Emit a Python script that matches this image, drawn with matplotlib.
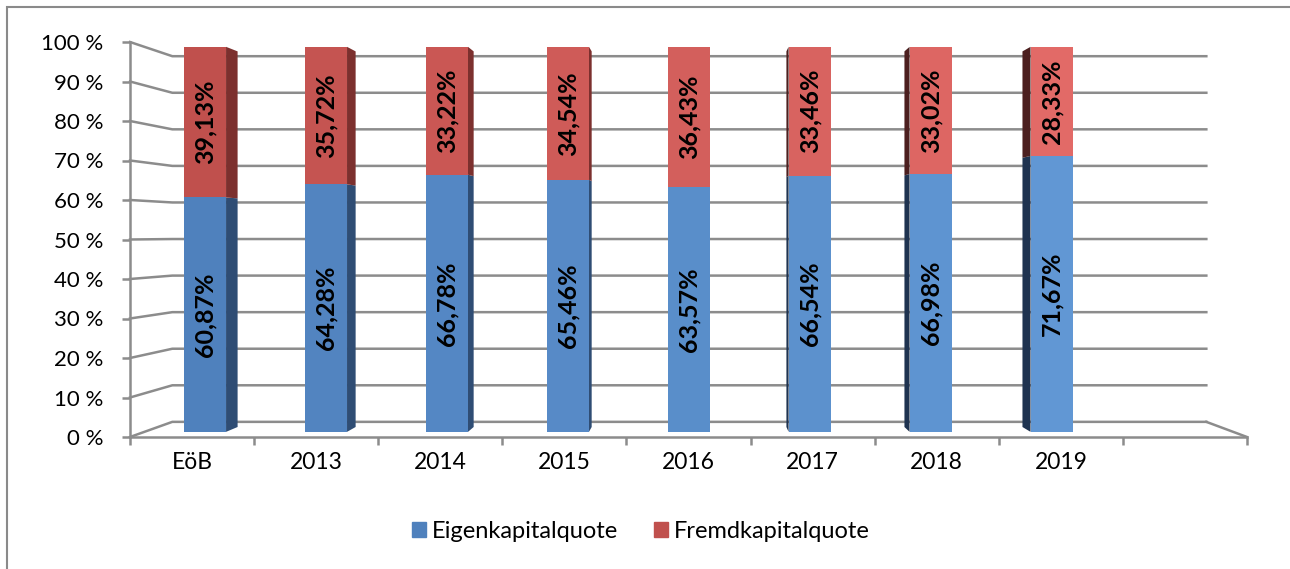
import matplotlib
matplotlib.use("Agg")
import matplotlib.pyplot as plt
from matplotlib.patches import Polygon, Rectangle, Patch
from matplotlib.colors import to_rgb
import numpy as np

# ---------------- data ----------------
categories = ["EöB", "2013", "2014", "2015", "2016", "2017", "2018", "2019"]
eigen = [60.87, 64.28, 66.78, 65.46, 63.57, 66.54, 66.98, 71.67]
fremd = [39.13, 35.72, 33.22, 34.54, 36.43, 33.46, 33.02, 28.33]
series_names = ["Eigenkapitalquote", "Fremdkapitalquote"]
y_ticks = [0, 10, 20, 30, 40, 50, 60, 70, 80, 90, 100]
n_slots = 9  # one empty slot after 2019

# ---------------- style ----------------
FONT = "Lato"
GRID = "#8c8c8c"
blue_a, blue_b = "#4F81BD", "#6197D4"
red_a, red_b = "#C0504D", "#E26A67"
blue_side_r, red_side_r = "#2F4D74", "#7C302E"
blue_side_l, red_side_l = "#1F3350", "#4C1F1F"

W, H = 1290, 569
fig = plt.figure(figsize=(W / 100, H / 100), dpi=100)
fig.patch.set_facecolor("white")
ax = fig.add_axes([130 / W, (H - 437) / H, 1117 / W, 395 / H])
ax.set_xlim(-0.5, n_slots - 0.5)
ax.set_ylim(0, 100)
ax.set_facecolor("none")

# perspective (vanishing point in data coords, depth shrink factor)
XV, YV, K = 4.09, 51.6, 0.0743


def proj(x, y, d):
    s = 1 - K * d
    return XV + (x - XV) * s, YV + (y - YV) * s


# back wall + left wall gridlines
for v in y_ticks:
    pts = [proj(-0.5, v, 0), proj(-0.5, v, 1), proj(n_slots - 0.5, v, 1)]
    xs, ys = zip(*pts)
    ax.plot(xs, ys, color=GRID, lw=1.8, zorder=1, clip_on=False)
# floor right edge
xs, ys = zip(proj(n_slots - 0.5, 0, 1), proj(n_slots - 0.5, 0, 0))
ax.plot(xs, ys, color=GRID, lw=1.8, zorder=1, clip_on=False)

# bars
d1, d2, bw = 0.34, 0.66, 0.35
n = len(categories)
t = np.linspace(0, 1, n)


def mix(c1, c2, f):
    a, b = np.array(to_rgb(c1)), np.array(to_rgb(c2))
    return tuple(a + (b - a) * f)


for series_idx, (vals, bottoms) in enumerate([(eigen, [0] * n), (fremd, eigen)]):
    xc, hs, ws, bs, cols = [], [], [], [], []
    for i in range(n):
        b = bottoms[i]
        top = b + vals[i]
        x0, y0 = proj(i - bw / 2, b, d1)
        x1, y1 = proj(i + bw / 2, top, d1)
        xc.append((x0 + x1) / 2)
        ws.append(x1 - x0)
        hs.append(y1 - y0)
        bs.append(y0)
        if series_idx == 0:
            cols.append(mix(blue_a, blue_b, t[i]))
        else:
            cols.append(mix(red_a, red_b, t[i]))
        # side face
        if i + bw / 2 < XV:
            xe = i + bw / 2
            sc = blue_side_r if series_idx == 0 else red_side_r
        elif i - bw / 2 > XV:
            xe = i - bw / 2
            sc = blue_side_l if series_idx == 0 else red_side_l
        else:
            xe = None
        if xe is not None:
            poly = Polygon([proj(xe, b, d1), proj(xe, b, d2),
                            proj(xe, top, d2), proj(xe, top, d1)],
                           closed=True, facecolor=sc, edgecolor="none",
                           zorder=2, clip_on=False)
            ax.add_patch(poly)
        # label
        lx, ly = proj(i, b + vals[i] / 2, d1)
        ax.text(lx, ly, f"{vals[i]:.2f}".replace(".", ",") + "%",
                rotation=90, ha="center", va="center", fontsize=18,
                fontweight="bold", family=FONT, color="black", zorder=4)
    ax.bar(xc, hs, width=ws, bottom=bs, color=cols, zorder=3,
           linewidth=0, label=series_names[series_idx])

# axes / ticks
for s in ["top", "right"]:
    ax.spines[s].set_visible(False)
for s in ["left", "bottom"]:
    ax.spines[s].set_color(GRID)
    ax.spines[s].set_linewidth(1.8)
    ax.spines[s].set_zorder(1)
ax.set_yticks(y_ticks)
ax.set_yticklabels([f"{v} %" for v in y_ticks], family=FONT, fontsize=16)
ax.tick_params(axis="y", length=6, width=1.8, color=GRID, pad=13)
ax.set_xticks(np.arange(-0.5, n_slots, 1.0))
ax.set_xticklabels([])
ax.set_xticks(np.arange(n), minor=True)
ax.set_xticklabels(categories, minor=True, family=FONT, fontsize=16.5)
ax.tick_params(axis="x", which="major", length=6, width=1.8, color=GRID)
ax.tick_params(axis="x", which="minor", length=0, pad=11)

# legend
handles = [Patch(color=blue_a), Patch(color=red_a)]
fig.legend(handles, series_names, loc="center", bbox_to_anchor=(641 / W, (H - 531) / H),
           ncol=2, frameon=False, prop={"family": FONT, "size": 17},
           handlelength=0.6, handleheight=0.6, handletextpad=0.25, columnspacing=1.5)

# outer border (open at right/bottom as in reference)
fig.add_artist(Rectangle((7 / W, -0.2), 1.5, (H - 7) / H + 0.2, transform=fig.transFigure,
                         fill=False, edgecolor="#8a8a8a", linewidth=1.5))

fig.savefig("out.png", dpi=100)
